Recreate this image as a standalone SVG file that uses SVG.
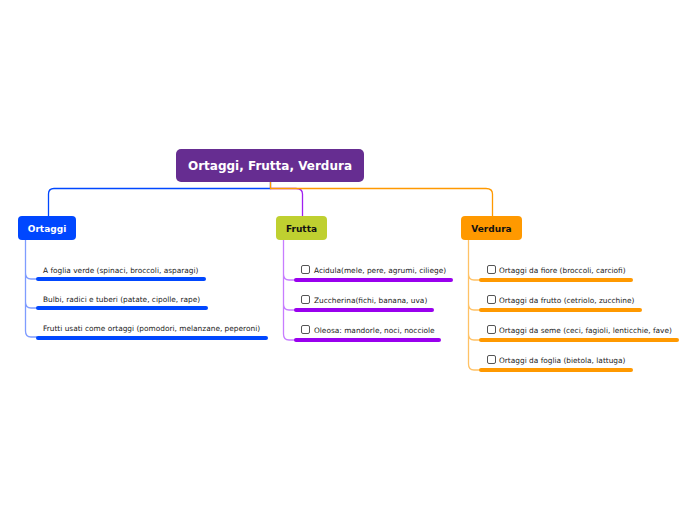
<svg xmlns="http://www.w3.org/2000/svg" width="696" height="520" viewBox="0 0 696 520">
<style>
.c{fill:none;stroke-width:1.3}
.u{fill:none;stroke-width:4;stroke-linecap:round}
.t{font-family:"DejaVu Sans",Verdana,sans-serif;font-size:7.4px;fill:#222}
.n{font-family:"DejaVu Sans",Verdana,sans-serif;font-size:9px;font-weight:bold;text-anchor:middle}
.cb{fill:#fff;stroke:#555;stroke-width:1}
</style>
<rect width="696" height="520" fill="#fff"/>
<g id="connectors">
<path class="c" stroke="#0047ff" d="M270.5,182 V188.5 H54 Q48.5,188.5 48.5,194 V216"/>
<path class="c" stroke="#a020f0" d="M270.5,188.5 H296 Q302.5,188.5 302.5,194 V216"/>
<path class="c" stroke="#ff9900" d="M270.5,182 V188.5 H486 Q492.5,188.5 492.5,194 V216"/>
<path class="c" stroke="#7f9cff" d="M25.5,240 V273 Q25.5,279 31,279 H37 M25.5,273 V302 Q25.5,308 31,308 H37 M25.5,302 V331 Q25.5,337 31,337 H37"/>
<path class="c" stroke="#c77dff" d="M283.5,240 V274 Q283.5,280 289,280 H295 M283.5,274 V304 Q283.5,310 289,310 H295 M283.5,304 V334 Q283.5,340 289,340 H295"/>
<path class="c" stroke="#ffc266" d="M468.5,240 V274 Q468.5,280 474,280 H480 M468.5,274 V304 Q468.5,310 474,310 H480 M468.5,304 V334 Q468.5,340 474,340 H480 M468.5,334 V364 Q468.5,370 474,370 H480"/>
</g>
<g id="root">
<rect x="176" y="149" width="188" height="33" rx="5" fill="#662d91"/>
<text x="270" y="170" class="n" style="font-size:12px;fill:#fff">Ortaggi, Frutta, Verdura</text>
</g>
<g id="ortaggi">
<rect x="18" y="216" width="58" height="24" rx="4" fill="#0047ff"/>
<text x="47" y="232" class="n" fill="#fff">Ortaggi</text>
</g>
<g id="frutta">
<rect x="276" y="216" width="51" height="24" rx="4" fill="#bfd030"/>
<text x="301.5" y="232" class="n" fill="#111">Frutta</text>
</g>
<g id="verdura">
<rect x="461" y="216" width="61" height="24" rx="4" fill="#ff9900"/>
<text x="491.5" y="232" class="n" fill="#111">Verdura</text>
</g>
<g id="o1"><text class="t" x="43" y="273">A foglia verde (spinaci, broccoli, asparagi)</text><path class="u" stroke="#0047ff" d="M38,279 H204"/></g>
<g id="o2"><text class="t" x="43" y="302">Bulbi, radici e tuberi (patate, cipolle, rape)</text><path class="u" stroke="#0047ff" d="M38,308 H206"/></g>
<g id="o3"><text class="t" x="43" y="331">Frutti usati come ortaggi (pomodori, melanzane, peperoni)</text><path class="u" stroke="#0047ff" d="M38,338 H266"/></g>
<g id="f1"><rect class="cb" x="301.5" y="265.5" width="8" height="8" rx="1.5"/><text class="t" x="314" y="273">Acidula(mele, pere, agrumi, ciliege)</text><path class="u" stroke="#9900ee" d="M296,280 H451"/></g>
<g id="f2"><rect class="cb" x="301.5" y="295.5" width="8" height="8" rx="1.5"/><text class="t" x="314" y="303">Zuccherina(fichi, banana, uva)</text><path class="u" stroke="#9900ee" d="M296,310 H432"/></g>
<g id="f3"><rect class="cb" x="301.5" y="325.5" width="8" height="8" rx="1.5"/><text class="t" x="314" y="333">Oleosa: mandorle, noci, nocciole</text><path class="u" stroke="#9900ee" d="M296,340 H439"/></g>
<g id="v1"><rect class="cb" x="487.5" y="265.5" width="8" height="8" rx="1.5"/><text class="t" x="499" y="273">Ortaggi da fiore (broccoli, carciofi)</text><path class="u" stroke="#ff9900" d="M481,280 H631"/></g>
<g id="v2"><rect class="cb" x="487.5" y="295.5" width="8" height="8" rx="1.5"/><text class="t" x="499" y="303">Ortaggi da frutto (cetriolo, zucchine)</text><path class="u" stroke="#ff9900" d="M481,310 H640"/></g>
<g id="v3"><rect class="cb" x="487.5" y="325.5" width="8" height="8" rx="1.5"/><text class="t" x="499" y="333">Ortaggi da seme (ceci, fagioli, lenticchie, fave)</text><path class="u" stroke="#ff9900" d="M481,340 H677"/></g>
<g id="v4"><rect class="cb" x="487.5" y="355.5" width="8" height="8" rx="1.5"/><text class="t" x="499" y="363">Ortaggi da foglia (bietola, lattuga)</text><path class="u" stroke="#ff9900" d="M481,370 H631"/></g>
</svg>
